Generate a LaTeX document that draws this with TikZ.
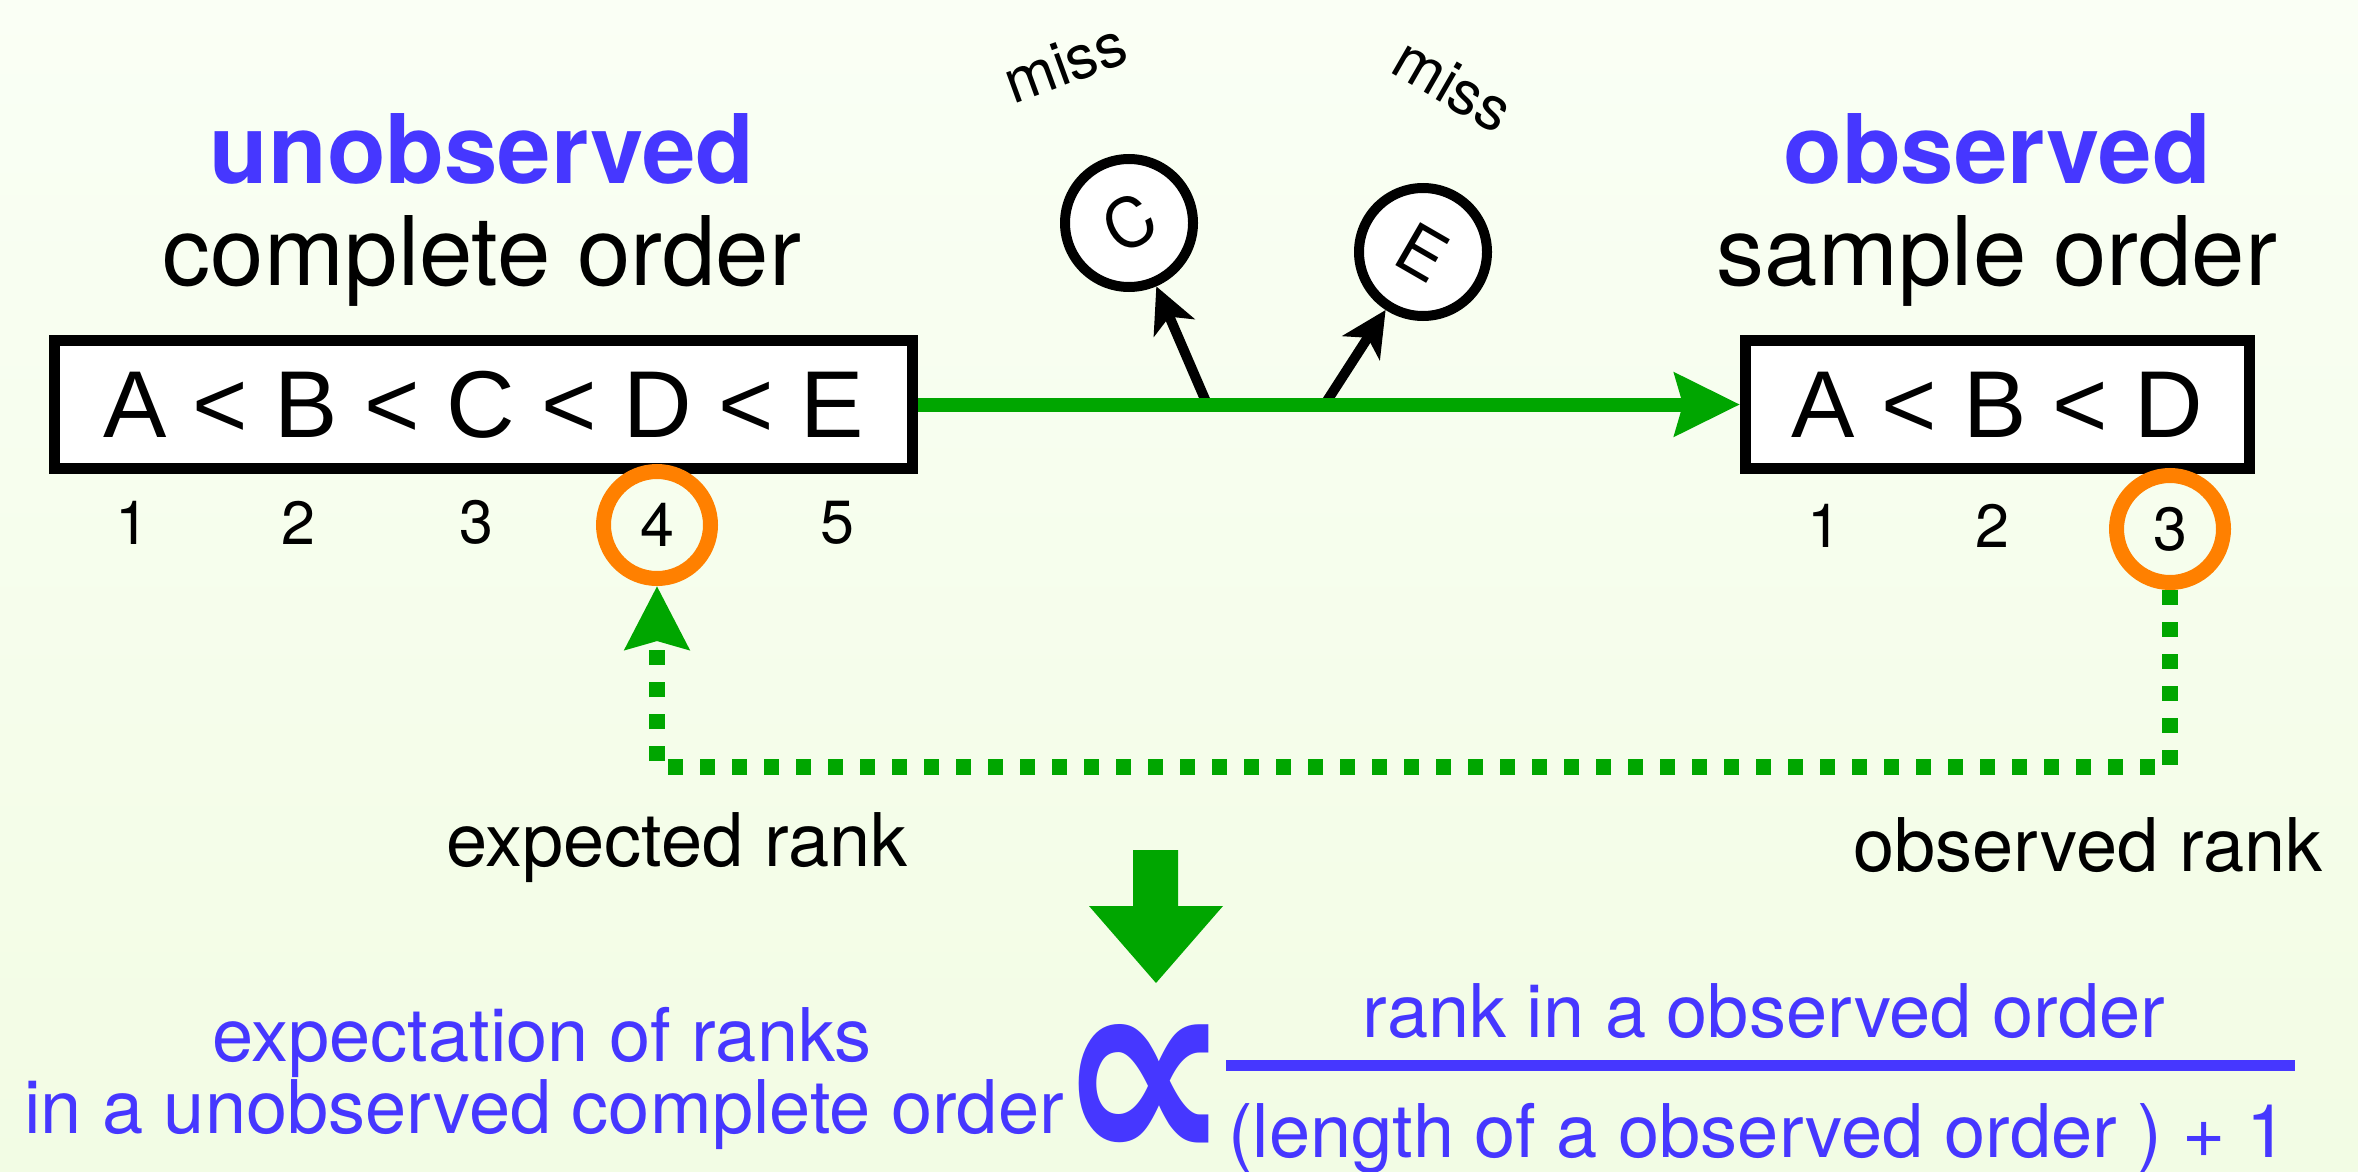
\documentclass[tikz,border=0pt]{standalone}
\usepackage{fontspec}
\setmainfont{TeX Gyre Heros}
\newfontfamily\symfont{DejaVu Sans}
\newfontfamily\ltfont{Liberation Sans}
\usetikzlibrary{arrows.meta}
\definecolor{tblue}{RGB}{70,55,255}
\definecolor{tgreen}{RGB}{0,166,0}
\definecolor{torange}{RGB}{255,128,0}
\definecolor{bgtop}{RGB}{250,255,245}
\definecolor{bgbot}{RGB}{242,252,228}
\newcommand\myfs[1]{\fontsize{#1}{#1}\selectfont}
\begin{document}
\begin{tikzpicture}[x=1pt,y=-1pt,
  txt/.style={inner sep=0pt, anchor=base},
  orderbox/.style={draw=black, line width=11pt, fill=white, inner sep=0pt,
    minimum height=128pt, font=\ltfont\myfs{95}},
  rankring/.style={draw=torange, line width=15pt, circle, inner sep=0pt,
    minimum size=107pt, font=\myfs{61}},
  ranknum/.style={inner sep=0pt, font=\myfs{61}},
  missball/.style={draw=black, line width=10pt, fill=white, circle,
    inner sep=0pt, minimum size=128pt, font=\myfs{68}},
  misslabel/.style={inner sep=0pt, font=\myfs{61}},
  mainarrow/.style={draw=tgreen, line width=14pt,
    -{Stealth[length=65pt,width=62pt,inset=8pt]}},
  missarrow/.style={draw=black, line width=10pt,
    -{Stealth[length=45pt,width=44pt,inset=12pt]}},
  dotarrow/.style={draw=tgreen, line width=16pt, dash pattern=on 15pt off 17pt,
    -{Stealth[length=63pt,width=63pt,inset=8pt]}},
  headbold/.style={txt, font=\myfs{96}\bfseries, text=tblue},
  headplain/.style={txt, font=\myfs{96}},
  note/.style={txt, font=\myfs{74}},
  formula/.style={txt, font=\myfs{74}, text=tblue}
]
\useasboundingbox (0,0) rectangle (2358,1172);
\shade[top color=bgtop, bottom color=bgbot] (0,0) rectangle (2358,1172);

% headers
\node[headbold]  (hu) at (482,183)  {unobserved};
\node[headplain] (hc) at (482,285)  {complete order};
\node[headbold]  (ho) at (1997,183) {observed};
\node[headplain] (hs) at (1997,285) {sample order};

% order boxes
\node[orderbox, minimum width=858pt] (L) at (483.5,404.5) {A < B < C < D < E};
\node[orderbox, minimum width=504pt] (R) at (1997.5,404.5) {A < B < D};

% missing items
\node[missball] (C) at (1129,223) {\rotatebox{30}{C}};
\node[missball] (E) at (1423,252) {\rotatebox{-30}{E}};
\node[misslabel, rotate=20]  (m1) at (1065,63) {miss};
\node[misslabel, rotate=-30] (m2) at (1453,85) {miss};

\coordinate (sC) at (1207,404);
\coordinate (sE) at (1325,404);
\draw[missarrow] (sC) -- (C);
\draw[missarrow] (sE) -- (E);
\draw[mainarrow] (L.east) -- (R.west);

% ranks
\node[ranknum] (l1) at (132,522.5) {1};
\node[ranknum] (l2) at (298,522.5) {2};
\node[ranknum] (l3) at (476,522.5) {3};
\node[rankring] (r4) at (657,525) {4};
\node[ranknum] (l5) at (837,522.5) {5};

\node[ranknum] (q1) at (1824,526) {1};
\node[ranknum] (q2) at (1992,526) {2};
\node[rankring] (r3) at (2170,529) {3};

\coordinate (turn) at (657,767);
\draw[dotarrow] (r3) -- (r3 |- turn) -- (turn) -- (r4);

\node[note] (er) at (677,866) {expected rank};
\node[note] (or) at (2088,871) {observed rank};

% block arrow
\fill[tgreen] (1133,850) -- (1178,850) -- (1178,906) -- (1223,906)
  -- (1156,983) -- (1089,906) -- (1133,906) -- cycle;

% formula
\node[formula] (f1) at (542,1061) {expectation of ranks};
\node[formula] (f2) at (544,1133) {in a unobserved complete order};
\node[inner sep=0pt, text=tblue, font=\symfont\bfseries\myfs{190}] (prop) at (1144,1096)
  {\scalebox{1.3}[1.5]{∝}};
\node[formula] (num) at (1764,1037) {rank in a observed order};
\node[fill=tblue, inner sep=0pt, minimum width=1069pt, minimum height=11pt] (bar) at (1760.5,1065.5) {};
\node[formula] (den) at (1758,1157) {(length of a observed order ) + 1};
\end{tikzpicture}
\end{document}
